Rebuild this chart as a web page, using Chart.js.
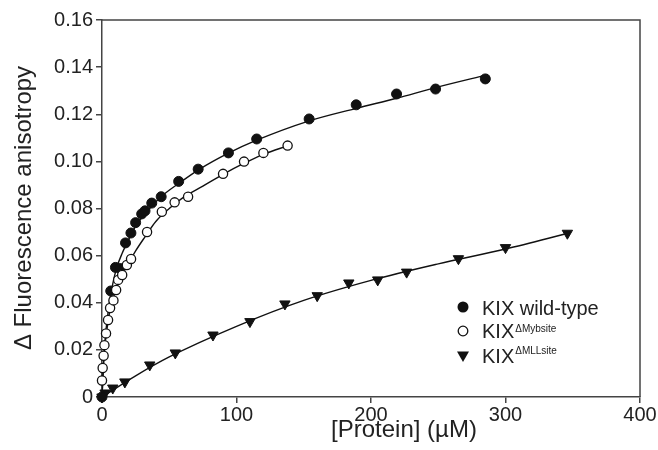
<!DOCTYPE html>
<html>
<head>
<meta charset="utf-8">
<title>KIX anisotropy titration</title>
<script src="https://cdn.jsdelivr.net/npm/chart.js@4.4.1/dist/chart.umd.min.js"></script>
<style>
    html, body { margin: 0; padding: 0; background: #fff; }
    #wrap { width: 658px; height: 450px; }
</style>
</head>
<body>
<div id="wrap"><canvas id="anisoChart" width="658" height="450"></canvas></div>
<script>
// Measured points: [Protein] (µM) and change in anisotropy
const wtX   = [0, 6.5, 10, 13.5, 17.5, 21.5, 25, 29.5, 32, 37, 44, 57, 71.5, 94, 115, 154, 189, 219, 248, 285];
const wtY   = [0, 0.045, 0.055, 0.0545, 0.0654, 0.0696, 0.074, 0.0777, 0.079, 0.0823, 0.085, 0.0915, 0.0967, 0.1036, 0.1095, 0.118, 0.124, 0.1286, 0.1307, 0.135];

const mybX  = [0, 0.5, 1.2, 1.8, 3, 4.5, 6, 8.5, 10.5, 12, 15, 18.5, 21.6, 33.5, 44.5, 54, 64, 90, 105.6, 120, 138];
const mybY  = [0.007, 0.0123, 0.0175, 0.022, 0.027, 0.0327, 0.0378, 0.041, 0.0454, 0.0497, 0.0518, 0.056, 0.0586, 0.070, 0.0786, 0.0826, 0.085, 0.0947, 0.0999, 0.1036, 0.1067];

const mllX  = [0, 2.3, 8, 17, 35.5, 54.5, 82.5, 110, 136, 160, 183.5, 205, 226.5, 265, 300, 346];
const mllY  = [0, 0.0017, 0.0038, 0.0064, 0.0136, 0.0187, 0.0263, 0.032, 0.0395, 0.043, 0.0484, 0.0497, 0.053, 0.0587, 0.0634, 0.0695];

// Fitted binding curves, sampled along each line
const wtFitX  = [0, 2, 5, 8, 11, 15, 20, 25, 30, 37, 45, 58, 72, 94, 115, 153, 189, 219, 248, 287];
const wtFitY  = [0, 0.022, 0.038, 0.048, 0.055, 0.061, 0.067, 0.0725, 0.0765, 0.081, 0.0855, 0.091, 0.0965, 0.1035, 0.109, 0.117, 0.1225, 0.1268, 0.1313, 0.1368];

const mybFitX = [0, 1, 2, 4, 6, 9, 12, 16, 20, 25, 32, 40, 50, 60, 75, 90, 105, 120, 139];
const mybFitY = [0, 0.014, 0.021, 0.03, 0.037, 0.043, 0.048, 0.053, 0.057, 0.062, 0.068, 0.0745, 0.08, 0.0845, 0.0895, 0.0945, 0.099, 0.103, 0.1068];

const mllFitX = [0, 25, 50, 100, 150, 200, 250, 300, 348];
const mllFitY = [0, 0.009, 0.017, 0.03, 0.041, 0.0495, 0.0565, 0.0628, 0.0697];

const xTicks = [0, 100, 200, 300, 400];
const yTicks = [0, 0.02, 0.04, 0.06, 0.08, 0.10, 0.12, 0.14, 0.16];

const legendLabels = ['KIX wild-type', 'KIX', 'KIX'];
const legendSupers = ['', '\u0394Mybsite', '\u0394MLLsite'];

const xTitle = '[Protein] (\u00b5M)';
const yTitle = '\u0394 Fluorescence anisotropy';

const FONT = '"Liberation Sans", Arial, Helvetica, sans-serif';
const INK = '#222';
const AXIS = '#444';

function pairs(xs, ys) {
    return xs.map((x, i) => ({ x: x, y: ys[i] }));
}

function fitLine(xs, ys) {
    return {
        type: 'line',
        data: pairs(xs, ys),
        borderColor: '#111',
        borderWidth: 1.4,
        pointRadius: 0,
        fill: false,
        cubicInterpolationMode: 'monotone',
        order: 2
    };
}

// Frame on top/right, axis titles and the in-plot legend
const decorPlugin = {
    id: 'decor',
    afterDraw(chart) {
        const { ctx, chartArea: a } = chart;
        ctx.save();

        ctx.strokeStyle = AXIS;
        ctx.lineWidth = 1.5;
        ctx.beginPath();
        ctx.moveTo(a.left, a.top);
        ctx.lineTo(a.right, a.top);
        ctx.lineTo(a.right, a.bottom);
        ctx.stroke();

        ctx.fillStyle = INK;
        ctx.font = '24px ' + FONT;
        ctx.textAlign = 'center';
        ctx.textBaseline = 'alphabetic';
        ctx.fillText(xTitle, 404, 437);

        ctx.save();
        ctx.translate(31, 208);
        ctx.rotate(-Math.PI / 2);
        ctx.fillText(yTitle, 0, 0);
        ctx.restore();

        // legend
        const mx = 463;
        const rows = [307, 331, 356];
        const baselines = [315, 338, 363];
        const superBase = [0, 332, 354];

        ctx.fillStyle = '#111';
        ctx.beginPath();
        ctx.arc(mx, rows[0], 5.5, 0, Math.PI * 2);
        ctx.fill();

        ctx.strokeStyle = '#111';
        ctx.lineWidth = 1.3;
        ctx.fillStyle = '#fff';
        ctx.beginPath();
        ctx.arc(mx, rows[1], 4.8, 0, Math.PI * 2);
        ctx.fill();
        ctx.stroke();

        ctx.fillStyle = '#111';
        ctx.beginPath();
        ctx.moveTo(mx - 6, rows[2] - 4.5);
        ctx.lineTo(mx + 6, rows[2] - 4.5);
        ctx.lineTo(mx, rows[2] + 6);
        ctx.closePath();
        ctx.fill();

        ctx.fillStyle = INK;
        ctx.textAlign = 'left';
        legendLabels.forEach((label, i) => {
            ctx.font = '20px ' + FONT;
            ctx.fillText(label, 482, baselines[i]);
            if (legendSupers[i]) {
                const w = ctx.measureText(label).width;
                ctx.font = '10px ' + FONT;
                ctx.fillText(legendSupers[i], 482 + w + 1, superBase[i]);
            }
        });

        ctx.restore();
    }
};

const ctx = document.getElementById('anisoChart').getContext('2d');

new Chart(ctx, {
    type: 'scatter',
    data: {
        datasets: [
            fitLine(wtFitX, wtFitY),
            fitLine(mybFitX, mybFitY),
            fitLine(mllFitX, mllFitY),
            {
                label: 'KIX wild-type',
                data: pairs(wtX, wtY),
                pointStyle: 'circle',
                pointRadius: 5,
                pointBackgroundColor: '#111',
                pointBorderColor: '#111',
                pointBorderWidth: 1,
                clip: false,
                order: 1
            },
            {
                label: 'KIX \u0394Mybsite',
                data: pairs(mybX, mybY),
                pointStyle: 'circle',
                pointRadius: 4.6,
                pointBackgroundColor: '#fff',
                pointBorderColor: '#111',
                pointBorderWidth: 1.3,
                clip: false,
                order: 0
            },
            {
                label: 'KIX \u0394MLLsite',
                data: pairs(mllX, mllY),
                pointStyle: 'triangle',
                rotation: 180,
                pointRotation: 180,
                pointRadius: 6,
                pointBackgroundColor: '#111',
                pointBorderColor: '#111',
                pointBorderWidth: 1,
                clip: false,
                order: 1
            }
        ]
    },
    options: {
        responsive: false,
        animation: false,
        layout: { padding: { left: 0, top: 20, right: 18, bottom: 0 } },
        plugins: {
            legend: { display: false },
            tooltip: { enabled: false }
        },
        scales: {
            x: {
                type: 'linear',
                min: 0,
                max: 400,
                afterBuildTicks: (scale) => { scale.ticks = xTicks.map(v => ({ value: v })); },
                afterFit: (scale) => { scale.height = 53; },
                ticks: {
                    color: INK,
                    font: { size: 20, family: FONT },
                    padding: 0,
                    maxRotation: 0
                },
                grid: {
                    display: true,
                    drawOnChartArea: false,
                    drawTicks: true,
                    tickLength: 6,
                    color: AXIS,
                    lineWidth: 1.5
                },
                border: { display: true, color: AXIS, width: 1.5 }
            },
            y: {
                type: 'linear',
                min: 0,
                max: 0.16,
                afterBuildTicks: (scale) => { scale.ticks = yTicks.map(v => ({ value: v })); },
                afterFit: (scale) => { scale.width = 102; },
                ticks: {
                    color: INK,
                    font: { size: 20, family: FONT },
                    padding: 3,
                    callback: (v) => v === 0 ? '0' : v.toFixed(2)
                },
                grid: {
                    display: true,
                    drawOnChartArea: false,
                    drawTicks: true,
                    tickLength: 6,
                    color: AXIS,
                    lineWidth: 1.5
                },
                border: { display: true, color: AXIS, width: 1.5 }
            }
        }
    },
    plugins: [decorPlugin]
});
</script>
</body>
</html>
